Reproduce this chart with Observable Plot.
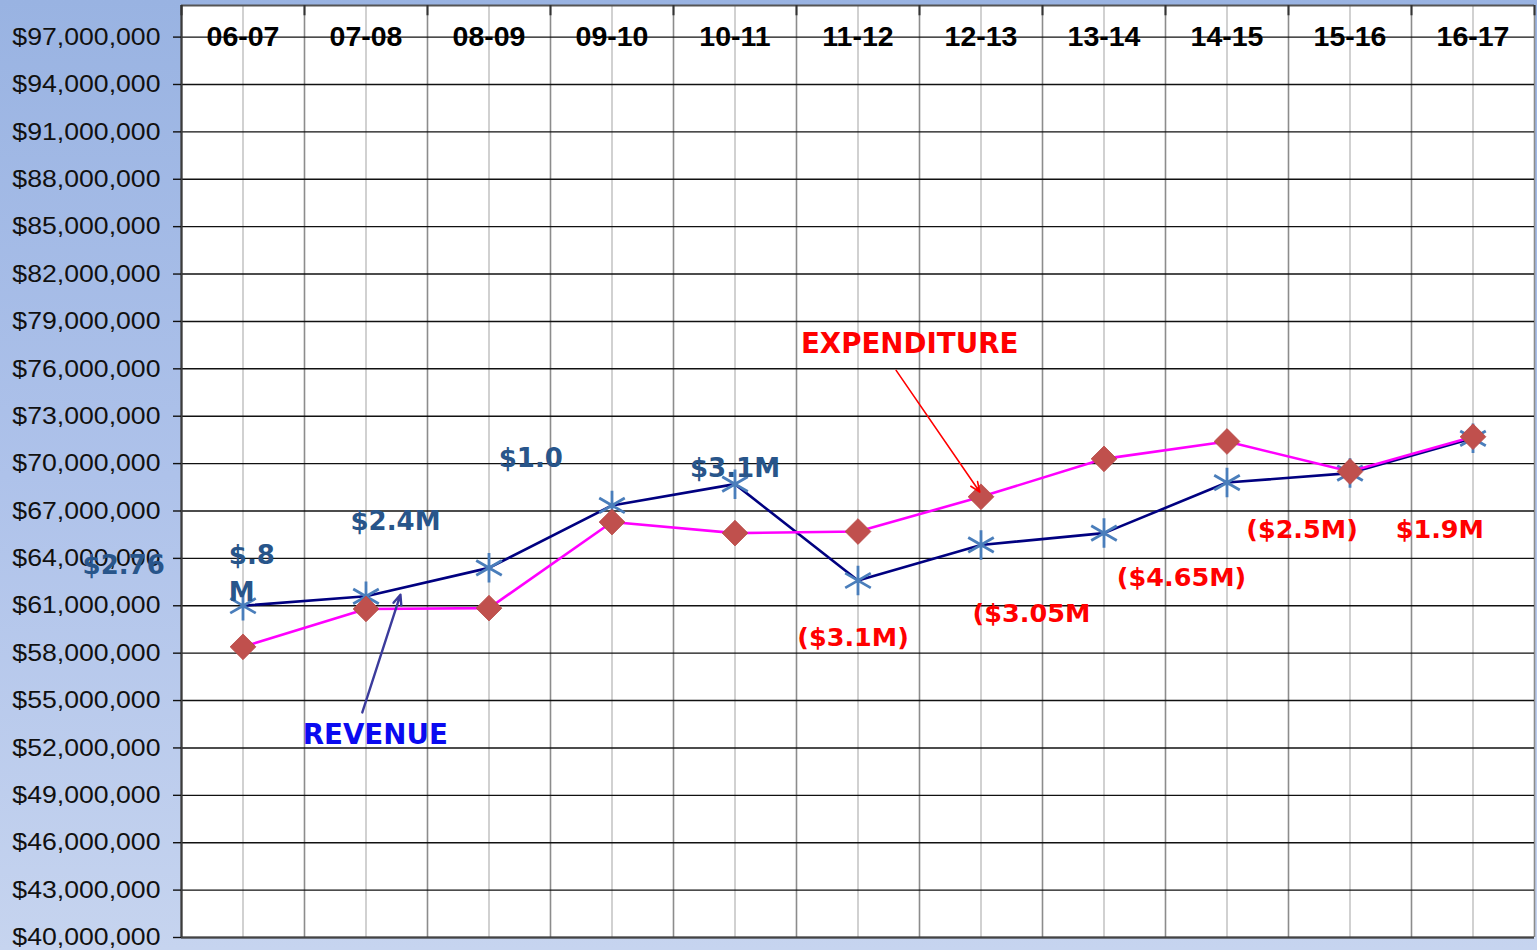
<!DOCTYPE html>
<html><head><meta charset="utf-8">
<script src="https://cdn.jsdelivr.net/npm/d3@7"></script>
<script src="https://cdn.jsdelivr.net/npm/@observablehq/plot@0.6"></script>
<style>
html,body{margin:0;padding:0;}
body{width:1537px;height:950px;overflow:hidden;background:linear-gradient(to bottom,#99b3e2 0%,#aec2ea 50%,#c6d4ef 100%);}
#chart svg{display:block;}
</style></head><body><div id="chart"></div>
<script>
// ---- data ----
const categories = ["06-07","07-08","08-09","09-10","10-11","11-12","12-13","13-14","14-15","15-16","16-17"];
const revenue     = [61000000,61600000,63400000,67350000,68700000,62600000,64850000,65600000,68800000,69400000,71600000];
const expenditure = [58400000,60800000,60850000,66300000,65600000,65700000,67900000,70300000,71400000,69500000,71700000];
const yTicks = [40,43,46,49,52,55,58,61,64,67,70,73,76,79,82,85,88,91,94,97].map(m => m * 1000000);

// annotation labels: text, category index position, value position
const blueLabels = [
  {text: "$2.76", x: -0.97, y: 63560000, anchor: "middle"},
  {text: "$.8",   x: -0.115, y: 64200000, anchor: "start"},
  {text: "M",     x: -0.115, y: 61850000, anchor: "start"},
  {text: "$2.4M", x: 1.24,  y: 66350000, anchor: "middle"},
  {text: "$1.0",  x: 2.34,  y: 70340000, anchor: "middle"},
  {text: "$3.1M", x: 4.0,   y: 69700000, anchor: "middle"}
];
const redLabels = [
  {text: "($3.1M)",  x: 4.96, y: 58940000},
  {text: "($3.05M",  x: 6.41, y: 60520000},
  {text: "($4.65M)", x: 7.63, y: 62740000},
  {text: "($2.5M)",  x: 8.61, y: 65780000},
  {text: "$1.9M",    x: 9.73, y: 65780000}
];
const seriesTitles = [
  {text: "EXPENDITURE", x: 5.42,  y: 77560000, color: "#ff0000"},
  {text: "REVENUE",     x: 1.075, y: 52800000, color: "#0a0af0"}
];
const arrows = [
  {x1: 5.31, y1: 75900000, x2: 5.99, y2: 68200000, color: "#ff0000", w: 1.6},
  {x1: 0.97, y1: 54250000, x2: 1.28, y2: 61700000, color: "#3b3b9c", w: 2.4}
];

const idx = categories.map((c, i) => i);
const bounds = categories.map((c, i) => i - 0.5).concat([categories.length - 0.5]);
const revData = categories.map((c, i) => ({i, v: revenue[i]}));
const expData = categories.map((c, i) => ({i, v: expenditure[i]}));
const fmt = d => "$" + d3.format(",")(d);
const blueText = {
  x: "x", y: "y", text: "text",
  fontSize: 26, fontWeight: "bold", fill: "#28558a",
  fontFamily: "DejaVu Sans, sans-serif"
};

const chart = Plot.plot({
  width: 1537,
  height: 950,
  marginLeft: 181,
  marginRight: 3,
  marginTop: 5,
  marginBottom: 13,
  style: {background: "transparent", fontFamily: "Liberation Sans, Arial, sans-serif", overflow: "visible"},
  x: {type: "linear", domain: [-0.5, categories.length - 0.5], axis: null},
  y: {domain: [40000000, 99000000]},
  marks: [
    Plot.frame({fill: "white", stroke: "none"}),
    Plot.ruleX(idx, {x: d => d, stroke: "#c6c6c6", strokeWidth: 1.6}),
    Plot.ruleX(bounds, {x: d => d, stroke: "#8c8c8c", strokeWidth: 1.6}),
    Plot.ruleY(yTicks, {y: d => d, stroke: "#111", strokeWidth: 1.4}),
    Plot.ruleY([99000000], {stroke: "#555", strokeWidth: 2}),
    Plot.ruleY([40000000], {stroke: "#444", strokeWidth: 2}),
    Plot.ruleX([-0.5], {stroke: "#3c3c3c", strokeWidth: 2.2}),
    Plot.ruleX(bounds, {x: d => d, y1: 99000000, y2: 98350000, stroke: "#333", strokeWidth: 2}),
    Plot.axisY({
      ticks: yTicks, tickFormat: fmt, tickSize: 8, tickPadding: 13,
      stroke: "#111", strokeWidth: 1.4, fill: "#111", fontSize: 24,
      fontFamily: "Liberation Sans, Arial, sans-serif", label: null
    }),
    Plot.text(categories, {
      x: (d, i) => i, y: () => 97000000, text: d => d,
      fontSize: 28.5, fontWeight: "bold", fill: "#000",
      fontFamily: "Liberation Sans, Arial, sans-serif"
    }),
    Plot.line(revData, {x: "i", y: "v", stroke: "#000080", strokeWidth: 2.6}),
    Plot.dot(revData, {x: "i", y: "v", symbol: "asterisk", r: 14, stroke: "#4a7ebb", strokeWidth: 2.8}),
    Plot.line(expData, {x: "i", y: "v", stroke: "#ff00ff", strokeWidth: 2.6}),
    Plot.dot(expData, {x: "i", y: "v", symbol: "diamond2", r: 11.6, fill: "#c0504d", stroke: "#b84a47", strokeWidth: 0.8}),
    Plot.text(blueLabels.filter(d => d.anchor === "middle"), {...blueText, textAnchor: "middle"}),
    Plot.text(blueLabels.filter(d => d.anchor === "start"), {...blueText, textAnchor: "start"}),
    Plot.text(redLabels, {
      x: "x", y: "y", text: "text",
      fontSize: 25.5, fontWeight: "bold", fill: "#ff0000",
      fontFamily: "DejaVu Sans, sans-serif"
    }),
    Plot.text(seriesTitles, {
      x: "x", y: "y", text: "text", fill: "color",
      fontSize: 27.7, fontWeight: "bold",
      fontFamily: "DejaVu Sans, sans-serif"
    }),
    Plot.arrow(arrows, {
      x1: "x1", y1: "y1", x2: "x2", y2: "y2", stroke: "color", strokeWidth: "w",
      headLength: 16, headAngle: 45, bend: 0
    })
  ]
});
document.getElementById("chart").appendChild(chart);

// widen the y tick labels slightly, like the reference's stretched text
chart.querySelectorAll('g[aria-label="y-axis tick label"] text').forEach(t => {
  const len = t.getComputedTextLength();
  t.setAttribute("textLength", (len * 1.11).toFixed(1));
  t.setAttribute("lengthAdjust", "spacingAndGlyphs");
});
</script>
</body></html>
